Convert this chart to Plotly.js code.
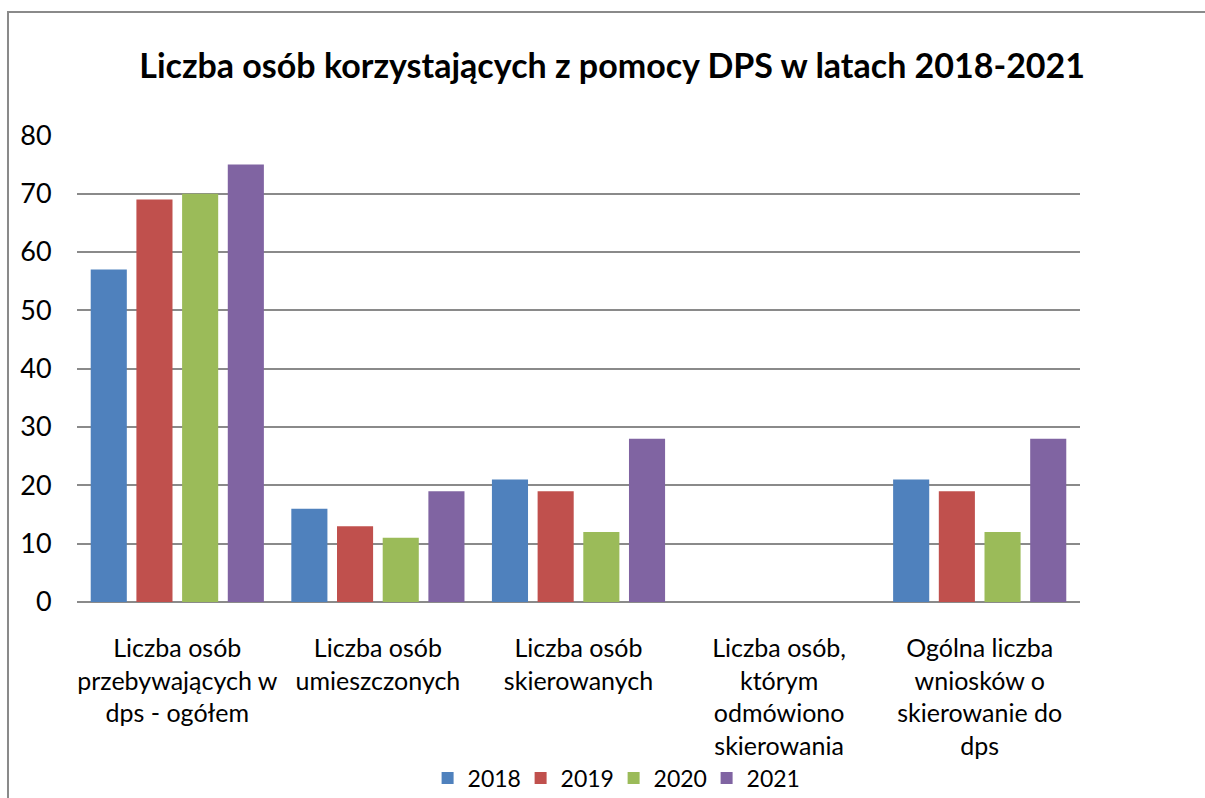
<!DOCTYPE html>
<html>
<head>
<meta charset="utf-8">
<script src="https://cdn.plot.ly/plotly-3.0.1.min.js"></script>
<style>
  html, body { margin: 0; padding: 0; background: #ffffff; }
  #chart { width: 1205px; height: 798px; }
</style>
</head>
<body>
<div id="chart"></div>
<script>
const categories = [
  "Liczba osób<br>przebywających w<br>dps - ogółem",
  "Liczba osób<br>umieszczonych",
  "Liczba osób<br>skierowanych",
  "Liczba osób,<br>którym<br>odmówiono<br>skierowania",
  "Ogólna liczba<br>wniosków o<br>skierowanie do<br>dps"
];
const years = ["2018", "2019", "2020", "2021"];
const values2018 = [57, 16, 21, 0, 21];
const values2019 = [69, 13, 19, 0, 19];
const values2020 = [70, 11, 12, 0, 12];
const values2021 = [75, 19, 28, 0, 28];
const yTicks = [0, 10, 20, 30, 40, 50, 60, 70, 80];

const colors = ["#4F81BD", "#C0504D", "#9BBB59", "#8064A2"];
const series = [values2018, values2019, values2020, values2021];
const FONT = 'Lato, "Open Sans", sans-serif';

const traces = series.map((vals, i) => ({
  type: "bar",
  name: years[i],
  x: categories,
  y: vals,
  marker: { color: colors[i] },
  hoverinfo: "x+y+name"
}));

const layout = {
  width: 1205,
  height: 798,
  margin: { l: 77, r: 125, t: 135, b: 196, autoexpand: false },
  paper_bgcolor: "#ffffff",
  plot_bgcolor: "#ffffff",
  font: { family: FONT, color: "#000000", size: 25 },
  title: {
    text: "<b>Liczba osób korzystających z pomocy DPS w latach 2018-2021</b>",
    font: { family: FONT, size: 34, color: "#000000" },
    x: 0.508, xanchor: "center",
    y: 0.917, yanchor: "middle"
  },
  barmode: "group",
  bargap: 0.089,
  bargroupgap: 0.21,
  xaxis: {
    type: "category",
    automargin: false,
    tickangle: 0,
    showgrid: false,
    showline: false,
    zeroline: false,
    ticks: "outside",
    ticklen: 24,
    tickcolor: "rgba(0,0,0,0)",
    tickfont: { family: FONT, size: 25, color: "#000000" }
  },
  yaxis: {
    automargin: false,
    range: [0, 80.05],
    tickvals: yTicks,
    ticktext: yTicks.map(String),
    showgrid: true,
    gridcolor: "#8a8a8a",
    gridwidth: 2,
    zeroline: true,
    zerolinecolor: "#8a8a8a",
    zerolinewidth: 2,
    showline: false,
    ticks: "outside",
    ticklen: 19,
    tickcolor: "rgba(0,0,0,0)",
    tickfont: { family: FONT, size: 27, color: "#000000" }
  },
  showlegend: true,
  legend: {
    orientation: "h",
    x: 0.535, xanchor: "center",
    y: -0.377, yanchor: "middle",
    font: { family: FONT, size: 23, color: "#000000" },
    bgcolor: "rgba(0,0,0,0)",
    itemwidth: 30,
    entrywidth: 48,
    traceorder: "normal"
  },
  shapes: [{
    type: "rect",
    xref: "paper", yref: "paper",
    x0: -0.0688, x1: 1.3,
    y0: -0.6, y1: 1.2634,
    line: { color: "#8a8a8a", width: 2 },
    fillcolor: "rgba(0,0,0,0)",
    layer: "below"
  }]
};

Plotly.newPlot("chart", traces, layout, { displayModeBar: false, staticPlot: true });
</script>
</body>
</html>
